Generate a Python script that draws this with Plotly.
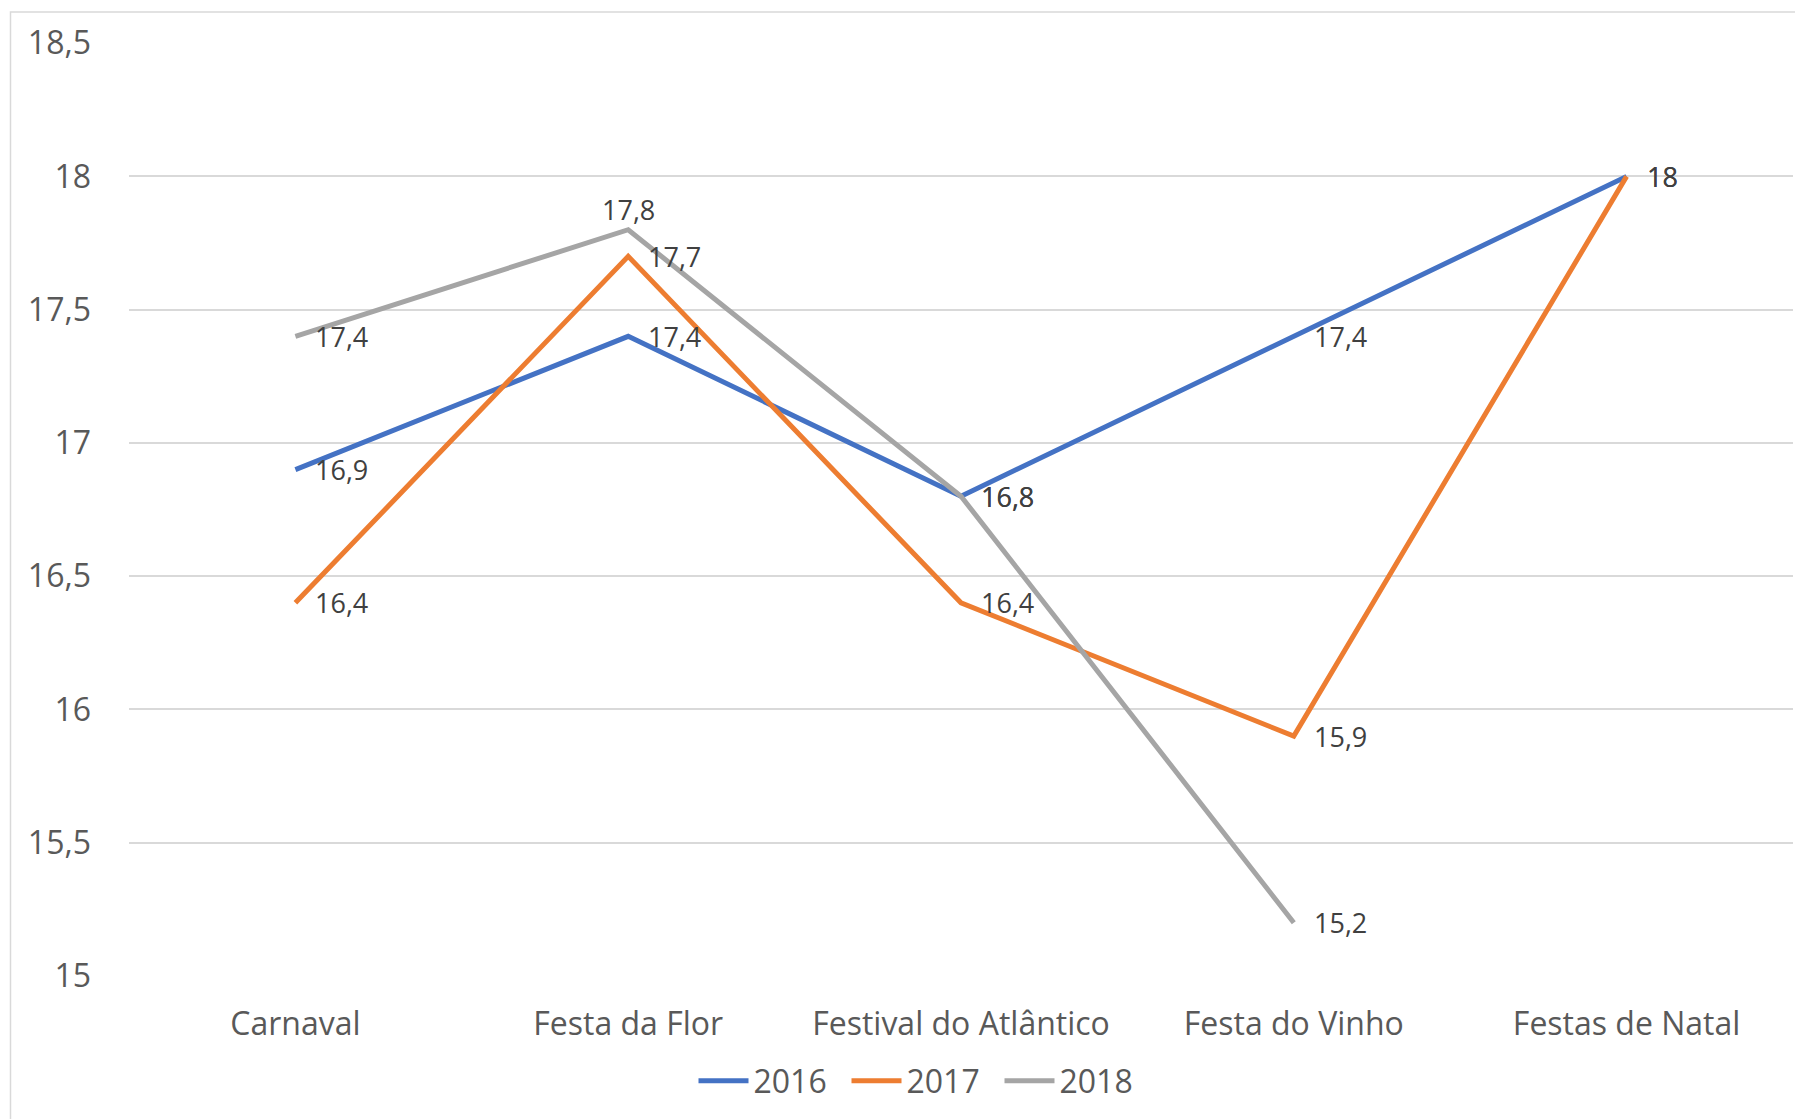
import plotly.graph_objects as go

categories = ["Carnaval", "Festa da Flor", "Festival do Atlântico", "Festa do Vinho", "Festas de Natal"]
series_names = ["2016", "2017", "2018"]
values_2016 = [16.9, 17.4, 16.8, 17.4, 18.0]
values_2017 = [16.4, 17.7, 16.4, 15.9, 18.0]
values_2018 = [17.4, 17.8, 16.8, 15.2, None]
label_pos_2016 = ["right"] * 5
label_pos_2017 = ["right"] * 5
label_pos_2018 = ["right", "top", "right", "right", "right"]
y_ticks = [15, 15.5, 16, 16.5, 17, 17.5, 18, 18.5]
y_tick_labels = ["15", "15,5", "16", "16,5", "17", "17,5", "18", "18,5"]

colors = ["#4472C4", "#ED7D31", "#A5A5A5"]
FONT = "Open Sans"

def fmt(v):
    return ("%g" % v).replace(".", ",")

fig = go.Figure()
annotations = []
for name, vals, pos, col in zip(series_names,
                                [values_2016, values_2017, values_2018],
                                [label_pos_2016, label_pos_2017, label_pos_2018],
                                colors):
    xs = [c for c, v in zip(categories, vals) if v is not None]
    ys = [v for v in vals if v is not None]
    ps = [p for p, v in zip(pos, vals) if v is not None]
    fig.add_trace(go.Scatter(
        x=xs, y=ys, name=name, mode="lines",
        line=dict(color=col, width=5),
        cliponaxis=False,
    ))
    for x, y, p in zip(xs, ys, ps):
        if p == "top":
            annotations.append(dict(x=x, y=y, text=fmt(y), showarrow=False,
                                    xanchor="center", yanchor="middle", yshift=20,
                                    font=dict(family=FONT, size=27, color="#404040")))
        else:
            annotations.append(dict(x=x, y=y, text=fmt(y), showarrow=False,
                                    xanchor="left", yanchor="middle", xshift=18,
                                    font=dict(family=FONT, size=27, color="#404040")))

W, H = 1795, 1119
L, R, T, B = 129, 2, 43, 143
pw, ph = W - L - R, H - T - B

fig.update_layout(
    width=W, height=H,
    margin=dict(l=L, r=R, t=T, b=B, pad=0),
    plot_bgcolor="white", paper_bgcolor="white",
    font=dict(family=FONT, color="#595959", size=32),
    showlegend=True,
    annotations=annotations,
    legend=dict(orientation="h", x=(923 - L) / pw, xanchor="center",
                y=(T + ph - 1081) / ph, yanchor="middle",
                font=dict(family=FONT, size=32, color="#595959"),
                itemwidth=50, entrywidth=88, entrywidthmode="pixels",
                tracegroupgap=0),
    xaxis=dict(type="category", categoryorder="array", categoryarray=categories,
               range=[-0.5, 4.5], showgrid=False, showline=False, zeroline=False,
               ticks="", ticklabelstandoff=26,
               tickfont=dict(family=FONT, size=32, color="#595959")),
    yaxis=dict(range=[15, 18.5005], tickvals=y_ticks, ticktext=y_tick_labels,
               showgrid=True, gridcolor="#D9D9D9", gridwidth=1.5,
               zeroline=False, showline=False, ticks="", ticklabelstandoff=37,
               tickfont=dict(family=FONT, size=32, color="#595959")),
    shapes=[dict(type="rect", xref="paper", yref="paper",
                 x0=(10.5 - L) / pw, x1=(W + 20 - L) / pw,
                 y0=-(B + 20) / ph, y1=1 + (T - 12) / ph,
                 line=dict(color="#D9D9D9", width=1.5), fillcolor="rgba(0,0,0,0)",
                 layer="below")],
)

fig.write_html("out.html", config={"displayModeBar": False},
               post_script="document.body.style.margin='0';document.body.style.overflow='hidden';")
